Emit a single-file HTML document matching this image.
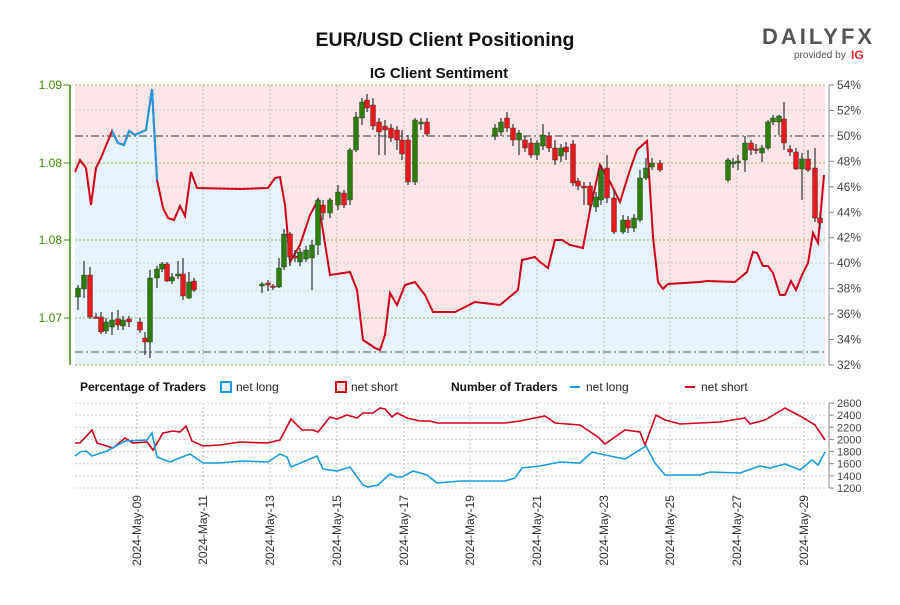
<!DOCTYPE html>
<html><head><meta charset="utf-8"><style>
body{margin:0;background:#fff;font-family:"Liberation Sans",sans-serif}
svg text{font-family:"Liberation Sans",sans-serif}
</style></head><body>
<svg id="s" width="900" height="600" xmlns="http://www.w3.org/2000/svg">
<rect width="900" height="600" fill="#fff"/>
<text x="445" y="46" text-anchor="middle" font-size="19.5" font-weight="bold" fill="#111">EUR/USD Client Positioning</text>
<text x="439" y="78" text-anchor="middle" font-size="15" font-weight="bold" fill="#111">IG Client Sentiment</text>
<text x="762" y="44" font-size="22" font-weight="bold" fill="#555" letter-spacing="3">DAILYFX</text>
<text x="794" y="58" font-size="10" fill="#555">provided by</text>
<text x="851" y="59" font-size="12" font-weight="bold" fill="#e8252a">IG</text>
<rect x="75" y="85" width="750" height="280" fill="#fbe5e6"/>
<polygon id="bluefill" fill="#e6f3fb"/>
<g id="grid"></g>
<line x1="75" y1="136" x2="825" y2="136" stroke="#777" stroke-width="1.6" stroke-dasharray="8,3,2,3"/>
<line x1="75" y1="352" x2="825" y2="352" stroke="#777" stroke-width="1.2" stroke-dasharray="8,3,2,3"/>
<polyline id="sent" fill="none" stroke="#d0021b" stroke-width="2"/>
<polyline points="112,131 118,143 124,145 129,131 135,135 146,130 152,89 157,180" fill="none" stroke="#1a9be0" stroke-width="2"/>
<g id="candles"></g>
<line x1="70" y1="85" x2="70" y2="365" stroke="#3a8a00" stroke-width="1.5"/>
<line x1="829" y1="85" x2="829" y2="365" stroke="#888" stroke-width="1"/>
<g id="axes" font-size="12"></g>
<g font-size="12" font-weight="bold" fill="#111">
<text x="80" y="391">Percentage of Traders</text>
<text x="451" y="391">Number of Traders</text></g>
<rect x="221" y="382" width="10" height="10" fill="#e6f3fb" stroke="#1a9be0" stroke-width="2"/>
<text x="236" y="391" font-size="12" fill="#222">net long</text>
<rect x="336" y="382" width="10" height="10" fill="#fbe5e6" stroke="#d0021b" stroke-width="2"/>
<text x="351" y="391" font-size="12" fill="#222">net short</text>
<line x1="570" y1="387" x2="580" y2="387" stroke="#1a9be0" stroke-width="2"/>
<text x="586" y="391" font-size="12" fill="#222">net long</text>
<line x1="685" y1="387" x2="695" y2="387" stroke="#d0021b" stroke-width="2"/>
<text x="701" y="391" font-size="12" fill="#222">net short</text>
<g id="grid2"></g>
<polyline id="bs" fill="none" stroke="#d0021b" stroke-width="1.6"/>
<polyline id="bl" fill="none" stroke="#1a9be0" stroke-width="1.6"/>
<line x1="829" y1="403" x2="829" y2="488" stroke="#888"/>
</svg>
<script>
var NS="http://www.w3.org/2000/svg";
function el(p,t,a,txt){var e=document.createElementNS(NS,t);for(var k in a)e.setAttribute(k,a[k]);if(txt)e.textContent=txt;document.getElementById(p).appendChild(e);return e;}
var xs=[137,203,270,337,404,470,537,604,670,737,804];
var dates=["2024-May-09","2024-May-11","2024-May-13","2024-May-15","2024-May-17","2024-May-19","2024-May-21","2024-May-23","2024-May-25","2024-May-27","2024-May-29"];
xs.forEach(function(x,i){
 el("grid","line",{x1:x,y1:85,x2:x,y2:365,stroke:"#bbb","stroke-dasharray":"2,2"});
 el("grid2","line",{x1:x,y1:403,x2:x,y2:490,stroke:"#bbb","stroke-dasharray":"2,2"});
 el("axes","text",{x:0,y:0,"font-size":"12",fill:"#333","text-anchor":"end",transform:"translate("+(x+4)+",495) rotate(-90)"},dates[i]);
});
[85,163,240,318,365].forEach(function(y){el("grid","line",{x1:75,y1:y,x2:825,y2:y,stroke:"#8cbf5a","stroke-dasharray":"2,2"});});
[110,187,263,291].forEach(function(y){el("grid","line",{x1:75,y1:y,x2:825,y2:y,stroke:"#ccc","stroke-dasharray":"2,2"});});
[["1.09",85],["1.08",163],["1.08",240],["1.07",318]].forEach(function(a){el("axes","text",{x:62,y:a[1]+4,"text-anchor":"end",fill:"#3a8a00","font-size":"12"},a[0]);el("axes","line",{x1:64,y1:a[1],x2:70,y2:a[1],stroke:"#3a8a00"});});
for(var i=0;i<12;i++){var y=85+i*25.45;el("axes","text",{x:837,y:y+4,fill:"#444","font-size":"12"},(54-2*i)+"%");el("axes","line",{x1:829,y1:y,x2:834,y2:y,stroke:"#888"});}
for(var i=0;i<8;i++){var y=403+i*12.14;el("grid2","line",{x1:75,y1:y,x2:825,y2:y,stroke:"#ccc","stroke-dasharray":"2,2"});el("axes","text",{x:837,y:y+4,fill:"#444","font-size":"11"},String(2600-200*i));el("axes","line",{x1:829,y1:y,x2:834,y2:y,stroke:"#888"});}
var sent="75,172 80,160 86,168 91,205 96,168 101,158 112,131 118,143 124,145 129,131 135,135 146,130 152,89 157,180 163,208 168,218 174,220 180,206 185,216 191,172 197,188 240,189 268,188 275,178 280,177 285,205 290,262 300,245 310,215 318,200 330,275 350,272 357,290 363,340 375,348 380,350 385,335 390,293 397,305 405,285 415,282 425,295 433,312 455,312 475,302 500,305 512,295 518,290 522,260 535,257 540,262 548,268 555,240 562,240 570,245 583,248 590,210 600,165 610,182 620,202 630,170 637,150 647,141 653,237 658,282 663,289 668,284 700,282 707,281 735,282 747,272 753,252 757,253 763,266 768,266 773,273 780,295 785,295 791,281 796,290 802,275 808,263 813,233 818,243 824,175";
document.getElementById("sent").setAttribute("points",sent);
document.getElementById("bluefill").setAttribute("points",sent+" 824,365 75,365");
var C=[[78,288,297,285,310,1],[84,275,289,261,298,1],[90,275,317,267,319,0],[96,317,318,313,319,0],[101,317,332,312,334,0],[106,322,331,318,334,1],[112,320,327,312,335,1],[118,319,325,310,330,0],[123,320,326,316,330,1],[129,319,322,316,327,0],[140,322,330,318,333,0],[145,338,342,332,355,0],[150,278,342,270,358,1],[157,269,278,266,288,1],[162,264,269,262,272,1],[167,264,281,262,282,0],[172,277,281,273,284,1],[178,274,276,261,279,1],[183,274,296,258,300,0],[189,282,298,272,299,1],[194,281,290,278,292,0],[262,284,286,282,293,1],[268,283,285,280,291,0],[273,286,287,284,290,0],[279,268,287,258,288,1],[284,234,267,229,270,1],[290,234,257,232,266,0],[295,256,258,250,262,0],[300,252,262,248,266,1],[306,250,259,246,262,1],[312,245,258,240,290,1],[318,200,245,198,255,1],[323,205,213,200,220,0],[330,200,213,198,218,1],[338,192,205,185,210,1],[344,193,205,190,208,0],[350,150,200,148,205,1],[356,117,150,112,152,1],[362,102,118,98,125,1],[367,100,108,94,112,0],[373,105,126,98,130,0],[379,122,132,118,155,0],[385,126,130,120,155,0],[391,128,138,124,142,0],[397,130,140,126,150,0],[402,140,154,130,160,0],[408,140,182,135,185,0],[415,120,182,118,185,1],[421,122,124,118,130,1],[427,122,134,118,136,0],[495,128,136,124,140,1],[501,122,132,118,136,1],[507,118,128,112,132,0],[513,128,140,124,146,0],[519,133,140,130,155,1],[525,140,148,136,152,0],[531,143,155,138,158,0],[537,143,155,140,160,1],[543,135,146,124,150,1],[549,136,148,132,152,0],[555,148,160,140,165,0],[561,148,156,144,162,1],[566,147,152,142,160,0],[573,144,183,140,186,0],[578,181,186,178,190,0],[584,186,188,182,205,0],[590,186,205,182,210,0],[596,197,207,192,212,1],[601,170,200,165,205,1],[607,168,198,155,203,0],[614,198,232,190,234,0],[623,220,232,215,234,1],[628,220,228,216,233,0],[634,218,228,214,232,1],[640,178,220,170,222,1],[646,168,178,158,180,1],[652,163,167,158,170,1],[660,163,170,160,172,0],[728,160,180,158,182,1],[733,162,164,158,168,1],[738,161,163,155,170,1],[745,143,160,136,172,1],[751,143,150,140,155,0],[756,149,150,144,154,0],[762,148,153,145,162,1],[768,122,148,120,150,1],[773,118,122,115,125,1],[779,116,122,115,135,1],[784,119,143,102,150,0],[790,149,152,145,156,0],[796,152,169,148,170,0],[802,159,169,153,200,1],[808,159,170,150,172,0],[815,168,218,148,222,0],[820,218,223,214,229,0]];
C.forEach(function(c){var col=c[5]?"#2e7d0a":"#e8191c";
 el("candles","line",{x1:c[0],y1:c[3],x2:c[0],y2:c[4],stroke:"#333","stroke-width":1.2});
 el("candles","rect",{x:c[0]-2.5,y:c[1],width:5,height:Math.max(1.5,c[2]-c[1]),fill:col,stroke:"#333","stroke-width":0.4});});
document.getElementById("bs").setAttribute("points","75,443 80,443 92,430 97,443 113,448 125,438 133,443 147,442 153,450 163,433 173,431 180,432 186,426 192,441 203,446 220,445 240,442 267,443 280,440 291,419 302,430 313,430 318,432 330,417 337,419 347,415 357,418 363,413 373,413 380,408 385,409 392,417 397,413 407,418 420,421 430,421 437,423 460,423 505,423 520,421 545,416 555,423 580,425 598,437 605,444 625,430 640,432 645,445 656,415 665,420 680,424 720,422 745,418 750,424 765,420 785,408 800,416 815,425 825,440");
document.getElementById("bl").setAttribute("points","75,456 80,452 86,451 92,456 107,451 125,441 147,440 152,433 157,457 170,462 182,457 190,454 203,463 220,463 242,461 268,462 280,454 287,457 291,467 317,456 323,469 337,471 350,467 363,485 368,487 378,485 390,474 397,477 402,477 413,471 427,475 437,483 460,481 505,481 515,478 522,468 540,466 560,462 580,463 592,452 605,455 625,459 646,446 655,463 665,475 700,475 710,472 740,473 760,466 770,468 785,464 800,470 812,460 818,465 825,452");
</script>
</body></html>
